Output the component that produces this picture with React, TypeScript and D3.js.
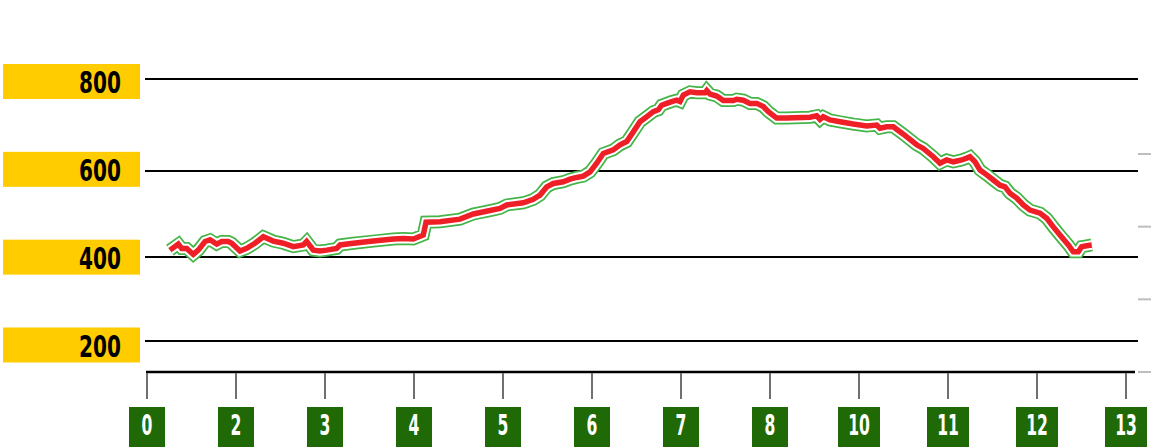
import React from 'react';
import * as d3 from 'd3';

// x-axis category labels (evenly spaced marker boxes)
const xLabels = ['0', '2', '3', '4', '5', '6', '7', '8', '10', '11', '12', '13'];
// y gridline values
const yTicks = [200, 400, 600, 800];
// secondary right-hand minor ticks (unlabelled)
const rightTicks = [0, 1, 2, 3];

// track position expressed in x-axis marker units (0 = first marker, 11 = last)
const trackPos = [
  0.258, 0.352, 0.39, 0.446, 0.52, 0.576, 0.652, 0.708, 0.783, 0.839, 0.913, 0.952,
  1.045, 1.12, 1.213, 1.307, 1.419, 1.531, 1.644, 1.756, 1.794, 1.869, 1.944, 2.019,
  2.131, 2.169, 2.318, 2.543, 2.767, 2.88, 2.992, 3.104, 3.135, 3.292, 3.517, 3.666,
  3.854, 3.966, 4.042, 4.228, 4.34, 4.416, 4.491, 4.565, 4.678, 4.753, 4.828, 4.902,
  4.978, 5.053, 5.127, 5.239, 5.315, 5.39, 5.464, 5.539, 5.615, 5.689, 5.745, 5.783,
  5.839, 5.896, 5.952, 5.989, 6.026, 6.101, 6.176, 6.27, 6.289, 6.326, 6.401, 6.475,
  6.588, 6.626, 6.7, 6.775, 6.851, 6.925, 6.981, 7.075, 7.188, 7.449, 7.525, 7.562,
  7.599, 7.674, 7.787, 7.936, 8.087, 8.199, 8.236, 8.311, 8.385, 8.498, 8.648, 8.722,
  8.835, 8.91, 8.985, 9.06, 9.154, 9.21, 9.247, 9.303, 9.36, 9.435, 9.509, 9.584,
  9.64, 9.697, 9.772, 9.846, 9.921, 10.034, 10.109, 10.183, 10.258, 10.352, 10.408,
  10.464, 10.502, 10.558, 10.615,
];

// elevation values
const elevation = [
  416, 430, 420, 420, 406, 416, 436, 440, 430, 436, 436, 432,
  414, 420, 432, 447, 437, 432, 424, 428, 436, 416, 414, 416,
  420, 428, 432, 437, 442, 443, 442, 451, 481, 482, 488, 500,
  508, 513, 521, 526, 534, 544, 563, 571, 575, 581, 585, 588,
  598, 617, 638, 646, 657, 664, 685, 707, 718, 729, 733, 743,
  747, 751, 754, 751, 765, 772, 770, 770, 775, 767, 763, 753,
  753, 756, 754, 747, 747, 740, 729, 715, 715, 717, 720, 712,
  718, 711, 707, 702, 698, 700, 693, 696, 696, 680, 657, 649,
  631, 617, 624, 620, 624, 628, 631, 620, 602, 591, 579, 567,
  563, 548, 537, 521, 509, 502, 490, 470, 451, 428, 412,
  412, 424, 426, 428,
];

const FONT = "'DejaVu Sans Condensed', 'DejaVu Sans', sans-serif";

export default function App() {
  const W = 1166;
  const H = 447;

  const xBand = d3.scalePoint<string>().domain(xLabels).range([147, 1126]);
  const xPos = d3.scaleLinear().domain([0, xLabels.length - 1]).range([147, 1126]);
  const y = d3.scaleLinear().domain([200, 400, 600, 800]).range([341, 257, 171, 79]);
  const labelY = d3.scaleLinear().domain([200, 800]).range([345, 81.5]);
  const rightY = d3.scaleLinear().domain([0, 3]).range([372, 154]);

  const pts = trackPos.map((p, i) => [p, elevation[i]] as [number, number]);
  const line = d3
    .line<[number, number]>()
    .x((d) => xPos(d[0]))
    .y((d) => y(d[1]))
    .curve(d3.curveLinear);
  const dPath = line(pts) || '';

  const axisY = 372;

  return (
    <svg
      width={W}
      height={H}
      style={{ position: 'absolute', left: 0, top: 0, background: '#fff' }}
    >
      {/* gridlines */}
      {yTicks.map((v) => (
        <line key={'g' + v} x1={145} x2={1138} y1={y(v)} y2={y(v)} stroke="#000" strokeWidth={2} />
      ))}
      {/* y labels */}
      {yTicks.map((v) => (
        <g key={'yl' + v}>
          <rect x={3} y={labelY(v) - 17.5} width={137} height={35} fill="#FFCC00" />
          <text
            transform={`translate(121,${labelY(v) + 11.5}) scale(0.72,1)`}
            textAnchor="end"
            fontFamily={FONT}
            fontWeight="bold"
            fontSize={31}
            fill="#000"
          >
            {v}
          </text>
        </g>
      ))}
      {/* right minor ticks */}
      {rightTicks.map((t) => (
        <line key={'r' + t} x1={1138} x2={1151} y1={rightY(t)} y2={rightY(t)} stroke="#bdbdbd" strokeWidth={2} />
      ))}
      {/* x axis */}
      <line x1={146} x2={1135} y1={axisY} y2={axisY} stroke="#000" strokeWidth={2.5} />
      {xLabels.map((l) => {
        const cx = xBand(l) as number;
        const bw = 36 + (l.length - 1) * 6;
        return (
          <g key={'x' + l}>
            <line x1={cx} x2={cx} y1={axisY + 1} y2={399} stroke="#707070" strokeWidth={2} />
            <rect x={cx - bw / 2} y={407} width={bw} height={45} fill="#1f6a07" />
            <text
              transform={`translate(${cx},434.5) scale(0.62,1)`}
              textAnchor="middle"
              fontFamily={FONT}
              fontWeight="bold"
              fontSize={28}
              fill="#fff"
            >
              {l}
            </text>
          </g>
        );
      })}
      {/* elevation line: green outline, white gap, red core */}
      <path d={dPath} fill="none" stroke="#45b449" strokeWidth={13} strokeLinejoin="miter" />
      <path d={dPath} fill="none" stroke="#ffffff" strokeWidth={9.5} strokeLinejoin="miter" />
      <path d={dPath} fill="none" stroke="#ee1f26" strokeWidth={5.5} strokeLinejoin="miter" />
    </svg>
  );
}
